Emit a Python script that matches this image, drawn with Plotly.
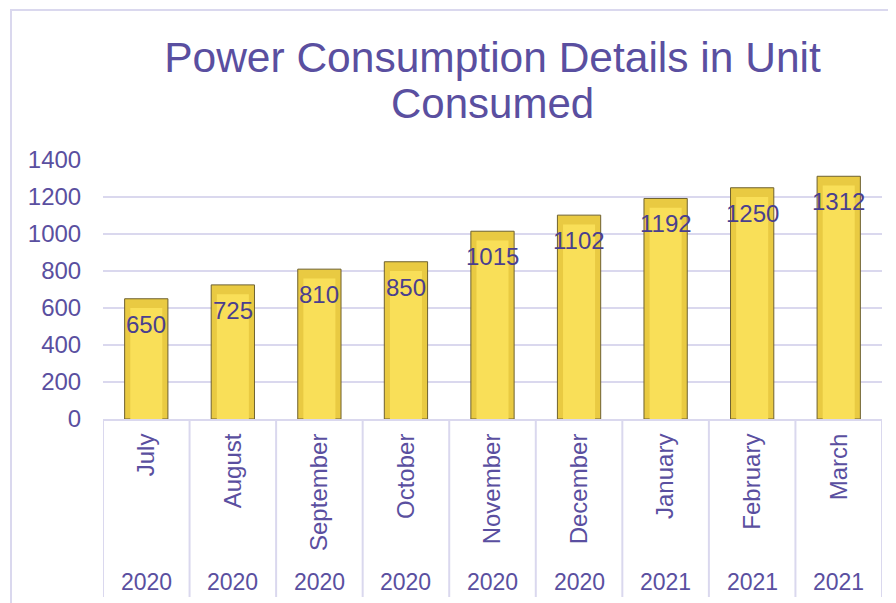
import plotly.graph_objects as go

months = ["July", "August", "September", "October", "November",
          "December", "January", "February", "March"]
years = ["2020", "2020", "2020", "2020", "2020", "2020", "2021", "2021", "2021"]
units = [650, 725, 810, 850, 1015, 1102, 1192, 1250, 1312]
y_ticks = [0, 200, 400, 600, 800, 1000, 1200, 1400]

TITLE_LINE1 = "Power Consumption Details in Unit"
TITLE_LINE2 = "Consumed"

PURPLE = "#5A4FA0"
LABEL = "#4A3F8E"
GRID = "#DAD8EE"
FONT = "Arial, Liberation Sans, sans-serif"

W, H = 896, 603
OFF = 8  # page body margin offset
ML, MT = 103 - OFF, 160 - OFF
MR = W - (882 - OFF)
MB = H - (419 - OFF)
PW, PH = W - ML - MR, H - MT - MB

fig = go.Figure()

# outer bevel body
fig.add_trace(go.Bar(
    x=months, y=units, width=0.5,
    marker=dict(color="#E9CA42", line=dict(color="#6E6130", width=1)),
    hoverinfo="skip", showlegend=False,
))
# inner bright face (bevel effect)
fig.add_trace(go.Bar(
    x=months, y=[u - 50 for u in units], width=0.37,
    marker=dict(color="#F9DF58", line=dict(width=0)),
    hoverinfo="skip", showlegend=False,
))

annotations = []
for m, u in zip(months, units):
    annotations.append(dict(
        x=m, y=u, xref="x", yref="y", text=str(u), showarrow=False,
        yanchor="top", yshift=-10,
        font=dict(family=FONT, size=24, color=LABEL),
    ))
for m, yr in zip(months, years):
    annotations.append(dict(
        x=m, y=0, xref="x", yref="paper", text=yr, showarrow=False,
        yanchor="middle", yshift=-163,
        font=dict(family=FONT, size=23, color=PURPLE),
    ))
annotations.append(dict(
    x=0.5, y=0, xref="paper", yref="paper", text=TITLE_LINE2, showarrow=False,
    yanchor="middle", yshift=419 - 103,
    font=dict(family=FONT, size=42, color=PURPLE),
))

shapes = []
# category separators extending below axis
for i in range(len(months) + 1):
    shapes.append(dict(
        type="line", xref="x", yref="paper",
        x0=i - 0.5, x1=i - 0.5, y0=0, y1=-(597 - 419) / PH,
        line=dict(color=GRID, width=2), layer="below",
    ))
# outer chart border
shapes.append(dict(
    type="rect", xref="paper", yref="paper",
    x0=(11 - 103) / PW, x1=(905 - 103) / PW,
    y0=(419 - 615) / PH, y1=(419 - 10) / PH,
    line=dict(color=GRID, width=2), fillcolor="rgba(0,0,0,0)", layer="below",
))

fig.update_layout(
    width=W, height=H,
    margin=dict(l=ML, r=MR, t=MT, b=MB),
    paper_bgcolor="white", plot_bgcolor="white",
    barmode="overlay",
    title=dict(
        text=TITLE_LINE1, x=0.5, xref="paper", xanchor="center",
        y=1 - (57 - OFF) / H, yanchor="middle", yref="container",
        font=dict(family=FONT, size=42.5, color=PURPLE),
    ),
    font=dict(family=FONT, color=PURPLE),
    annotations=annotations,
    shapes=shapes,
)
fig.update_xaxes(
    type="category", categoryorder="array", categoryarray=months,
    tickangle=-90, tickfont=dict(family=FONT, size=24, color=PURPLE),
    showgrid=False, showline=True, linecolor=GRID, linewidth=2,
    ticks="outside", ticklen=3, tickcolor="rgba(0,0,0,0)",
    range=[-0.5, len(months) - 0.5],
)
fig.update_yaxes(
    range=[0, 1400], tickvals=y_ticks, ticktext=[str(v) for v in y_ticks],
    tickfont=dict(family=FONT, size=24, color=PURPLE),
    showgrid=True, gridcolor=GRID, gridwidth=2,
    zeroline=False, showline=False,
    ticks="outside", ticklen=16, tickcolor="rgba(0,0,0,0)",
)

fig.write_html("out.html")
